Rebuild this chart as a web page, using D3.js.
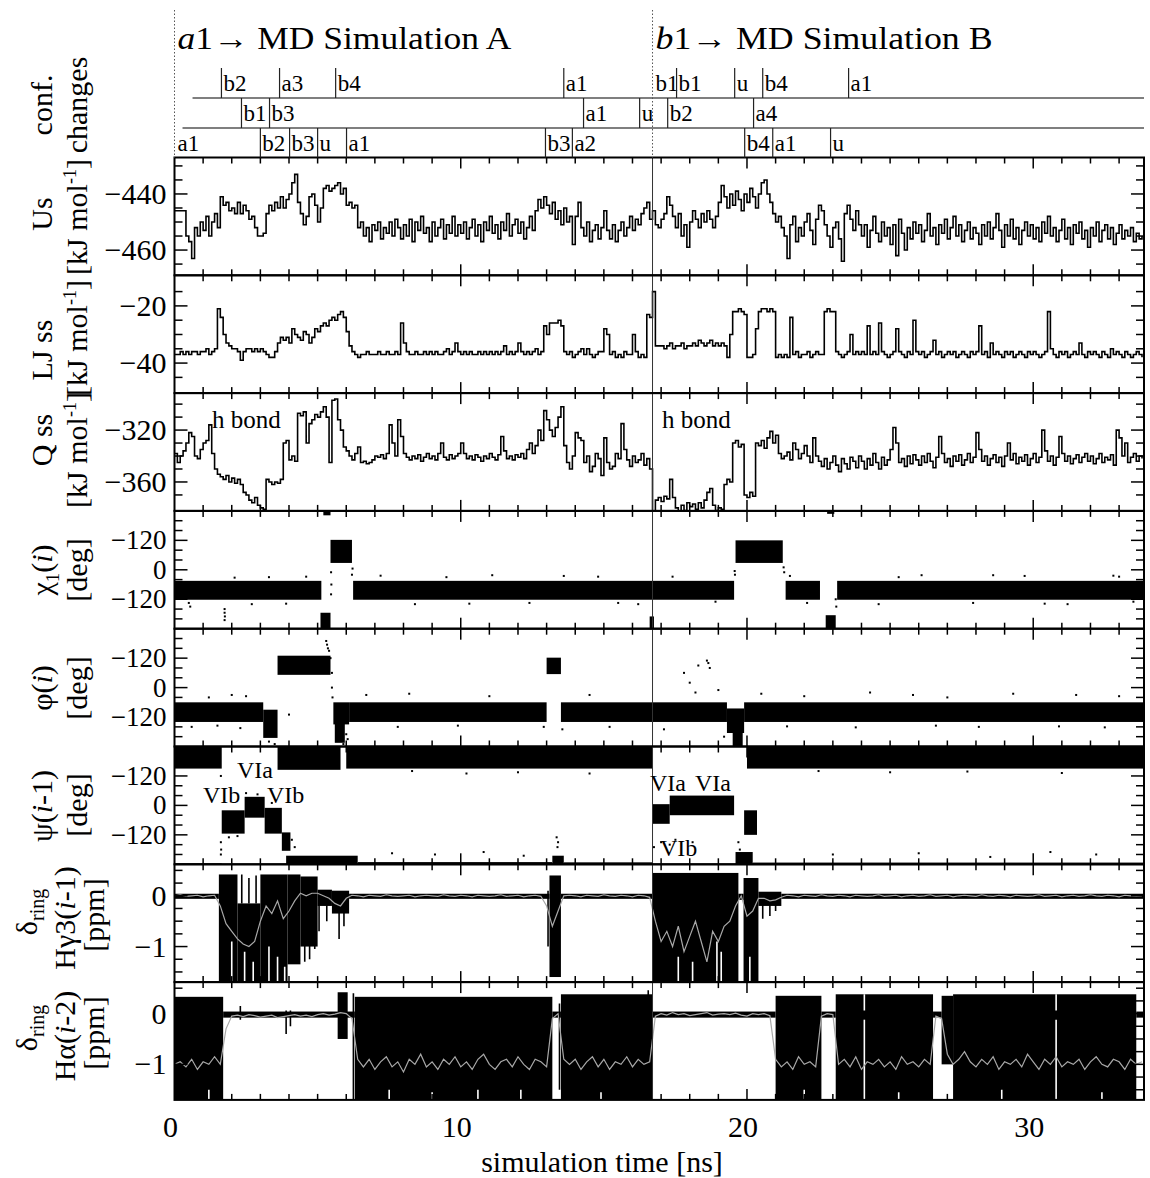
<!DOCTYPE html>
<html>
<head>
<meta charset="utf-8">
<title>Conformational changes in MD simulations A and B</title>
<script src="https://cdn.jsdelivr.net/npm/d3@7/dist/d3.min.js"></script>
<style>
  html, body { margin: 0; padding: 0; background: #fff; }
  svg { display: block; font-family: "Liberation Serif", "Times New Roman", "DejaVu Serif", serif; }
</style>
</head>
<body>
<svg id="fig" width="1150" height="1178"></svg>
<script>
// ---------------- data ----------------
const timeExtent = [0, 33.87];      // ns
const simBStart = 16.7;              // ns, start of simulation B

// conformational-change annotations (three rows, top to bottom)
const confRowStart = [0.63, 0.28, 0];
const confRow1Times = [1.64, 3.67, 5.63, 13.6, 16.7, 17.54, 19.57, 20.55, 23.55];
const confRow1Labels = ["b2", "a3", "b4", "a1", "b1", "b1", "u", "b4", "a1"];
const confRow2Times = [2.34, 3.32, 14.29, 16.25, 17.23, 20.23];
const confRow2Labels = ["b1", "b3", "a1", "u", "b2", "a4"];
const confRow3Times = [0, 3.0, 4.02, 5.0, 6.01, 12.96, 13.9, 19.92, 20.9, 22.92];
const confRow3Labels = ["a1", "b2", "b3", "u", "a1", "b3", "a2", "b4", "a1", "u"];

// Us, kJ/mol: one row per ns, samples every 0.1 ns
const usByNs = [
  [-446,-446,-446,-446,-455,-457,-463,-452,-455,-450],
  [-453,-448,-455,-450,-447,-452,-441,-444,-443,-446],
  [-445,-447,-443,-447,-444,-446,-449,-448,-452,-455],
  [-455,-454,-447,-444,-446,-443,-445,-441,-445,-442],
  [-440,-436,-433,-443,-447,-451,-448,-441,-440,-444],
  [-450,-445,-438,-437,-439,-438,-437,-436,-440,-438],
  [-444,-443,-445,-444,-452,-450,-455,-452,-457,-451],
  [-453,-450,-456,-452,-454,-450,-455,-449,-452,-456],
  [-451,-455,-449,-457,-450,-453,-448,-454,-452,-457],
  [-450,-455,-452,-449,-456,-451,-454,-448,-455,-451],
  [-454,-450,-456,-452,-449,-455,-451,-457,-450,-453],
  [-448,-454,-451,-456,-450,-453,-447,-455,-451,-449],
  [-454,-450,-456,-452,-448,-453,-446,-442,-445,-441],
  [-444,-447,-443,-449,-446,-451,-445,-450,-448,-458],
  [-448,-443,-452,-455,-450,-457,-453,-451,-456,-452],
  [-446,-453,-456,-451,-457,-453,-450,-455,-452,-448],
  [-453,-449,-451,-447,-445,-443,-449,-446,-451,-452],
  [-449,-447,-441,-444,-448,-452,-447,-455,-451,-459],
  [-450,-446,-449,-452,-447,-450,-446,-449,-452,-448],
  [-443,-437,-441,-445,-440,-444,-439,-442,-446,-440],
  [-443,-438,-441,-445,-440,-436,-435,-440,-443,-447],
  [-450,-448,-452,-455,-463,-451,-448,-457,-452,-455],
  [-450,-447,-453,-458,-449,-444,-446,-451,-455,-459],
  [-452,-450,-456,-464,-447,-444,-449,-453,-446,-451],
  [-455,-451,-459,-453,-448,-454,-457,-450,-455,-452],
  [-458,-451,-462,-449,-454,-460,-452,-456,-450,-454],
  [-451,-457,-453,-447,-455,-452,-458,-451,-454,-449],
  [-456,-452,-448,-455,-451,-457,-453,-450,-456,-452],
  [-454,-458,-451,-455,-450,-456,-452,-447,-453,-459],
  [-451,-455,-449,-456,-452,-458,-453,-450,-455,-451],
  [-456,-452,-457,-450,-454,-448,-455,-452,-457,-453],
  [-449,-456,-452,-458,-451,-454,-450,-456,-453,-459],
  [-452,-455,-450,-457,-453,-451,-456,-452,-458,-454],
  [-451,-456,-453,-455,-452,-457,-454,-456,-455]
];

// LJ side chain / side chain, kJ/mol
const ljByNs = [
  [-37,-37,-36,-37,-36,-37,-36,-36,-37,-36],
  [-36,-35,-37,-36,-35,-21,-24,-30,-33,-34],
  [-35,-35,-36,-39,-36,-35,-35,-36,-35,-36],
  [-35,-36,-37,-38,-38,-36,-33,-31,-32,-31],
  [-33,-28,-30,-31,-32,-29,-30,-33,-31,-28],
  [-29,-27,-26,-27,-25,-24,-25,-23,-22,-24],
  [-29,-34,-36,-37,-38,-37,-37,-36,-37,-37],
  [-37,-36,-37,-37,-36,-37,-37,-36,-37,-26],
  [-33,-36,-37,-37,-36,-37,-37,-36,-37,-36],
  [-37,-36,-37,-37,-36,-35,-37,-36,-33,-36],
  [-37,-36,-37,-36,-37,-37,-36,-37,-36,-37],
  [-36,-37,-36,-37,-36,-34,-37,-36,-37,-36],
  [-33,-36,-37,-36,-37,-36,-35,-37,-36,-27],
  [-30,-26,-26,-26,-25,-27,-36,-37,-36,-38],
  [-37,-36,-35,-37,-35,-37,-38,-37,-36,-36],
  [-28,-30,-37,-36,-38,-37,-38,-36,-37,-37],
  [-30,-36,-38,-37,-38,-23,-24,-15,-34,-34],
  [-34,-35,-34,-33,-35,-34,-34,-33,-35,-34],
  [-34,-33,-34,-32,-33,-34,-33,-32,-34,-33],
  [-34,-33,-34,-38,-30,-22,-22,-21,-22,-23],
  [-38,-38,-37,-28,-22,-21,-21,-22,-21,-22],
  [-38,-37,-38,-37,-38,-24,-37,-36,-38,-37],
  [-37,-36,-38,-37,-36,-37,-37,-22,-21,-22],
  [-22,-36,-37,-38,-37,-36,-30,-37,-36,-37],
  [-36,-37,-27,-37,-36,-37,-26,-36,-37,-38],
  [-37,-36,-28,-36,-37,-38,-36,-37,-25,-36],
  [-37,-36,-38,-37,-36,-32,-37,-36,-38,-37],
  [-36,-37,-36,-38,-37,-36,-37,-38,-36,-37],
  [-36,-27,-37,-36,-38,-33,-37,-36,-37,-38],
  [-36,-37,-36,-38,-37,-36,-37,-38,-36,-37],
  [-36,-37,-38,-37,-36,-22,-35,-37,-38,-36],
  [-37,-36,-38,-37,-36,-37,-33,-37,-38,-36],
  [-37,-36,-37,-38,-36,-37,-38,-35,-37,-36],
  [-37,-38,-36,-37,-38,-37,-36,-37,-38]
];

// Coulomb side chain / side chain, kJ/mol
const qByNs = [
  [-338,-345,-340,-336,-330,-322,-325,-340,-342,-335],
  [-330,-328,-316,-338,-350,-354,-356,-358,-355,-360],
  [-357,-361,-358,-362,-368,-370,-374,-376,-372,-378],
  [-380,-381,-358,-360,-362,-360,-361,-358,-330,-328],
  [-343,-340,-344,-307,-309,-306,-330,-315,-312,-308],
  [-310,-306,-302,-310,-345,-297,-296,-312,-320,-333],
  [-336,-340,-343,-338,-333,-345,-344,-346,-345,-343],
  [-340,-341,-339,-342,-338,-316,-330,-340,-312,-325],
  [-338,-341,-343,-340,-342,-339,-344,-341,-338,-342],
  [-340,-343,-338,-330,-341,-343,-339,-342,-340,-338],
  [-330,-338,-342,-340,-343,-339,-341,-344,-340,-342],
  [-338,-341,-343,-339,-325,-336,-342,-340,-343,-339],
  [-341,-338,-342,-335,-330,-338,-332,-320,-328,-305],
  [-312,-320,-325,-318,-310,-302,-332,-345,-350,-340],
  [-322,-326,-328,-345,-340,-352,-348,-338,-342,-355],
  [-326,-345,-350,-348,-338,-342,-315,-335,-343,-348],
  [-340,-345,-343,-338,-347,-342,-350,-385,-374,-372],
  [-375,-371,-373,-358,-372,-380,-383,-378,-382,-376],
  [-379,-377,-381,-376,-380,-374,-368,-365,-378,-382],
  [-380,-381,-362,-358,-360,-330,-328,-333,-331,-370],
  [-372,-368,-371,-330,-332,-328,-334,-326,-321,-330],
  [-324,-338,-342,-340,-337,-343,-330,-335,-342,-338],
  [-332,-340,-345,-326,-340,-344,-348,-342,-350,-345],
  [-340,-347,-352,-342,-346,-350,-341,-344,-349,-340],
  [-344,-350,-342,-347,-338,-345,-350,-341,-347,-343],
  [-335,-318,-330,-345,-342,-348,-340,-346,-339,-343],
  [-347,-340,-345,-338,-344,-349,-341,-325,-338,-345],
  [-342,-348,-340,-344,-339,-347,-343,-338,-345,-341],
  [-322,-335,-344,-340,-347,-342,-339,-345,-341,-348],
  [-340,-330,-343,-338,-346,-341,-344,-339,-347,-342],
  [-338,-345,-341,-320,-336,-344,-340,-347,-341,-325],
  [-338,-344,-340,-346,-342,-339,-345,-341,-338,-344],
  [-340,-346,-342,-338,-345,-341,-343,-339,-347,-320],
  [-326,-340,-330,-345,-341,-338,-344,-340,-342]
];

// dihedral populations: [t0, t1, lowDeg, highDeg]; sparse samples: [t, deg]
const chiBands = [
  [0, 5.13, -122, -45], [5.1, 5.45, -240, -175], [5.2, 5.45, 222, 240],
  [5.45, 6.2, 28, 122], [6.24, 16.7, -122, -45], [16.6, 16.75, -240, -190],
  [16.7, 19.55, -122, -45], [19.6, 21.25, 28, 120], [21.35, 22.55, -122, -45],
  [22.75, 23.1, -240, -185], [22.8, 23.05, 228, 240], [23.15, 33.87, -122, -45]
];
const chiDots = [
  [0.5,-135],[0.55,-150],[1.75,-160],[1.75,-175],[1.76,-190],[1.75,-205],[2.7,-140],[3.9,-138],
  [4.6,-28],[7.2,-24],[9.5,-30],[11.1,-22],[12.4,-135],[14.8,-28],[16.2,-140],[18.9,-130],
  [21.5,-25],[24.6,-140],[26.1,-22],[27.9,-135],[29.7,-25],[31.2,-140],[32.8,-24],[33.5,-130],
  [5.47,-100],[5.48,-60],[5.47,-10],[6.2,-20],[6.22,5],[19.58,-20],[19.57,-5],[21.3,-10],
  [21.28,10],[23.12,-150],[23.1,-120],[2.1,-32],[3.3,-30],[8.4,-140],[10.3,-138],[13.6,-25],
  [15.5,-135],[17.4,-28],[22.1,-135],[25.3,-30],[28.6,-22],[30.4,-138],[33.0,-28]
];
const phiBands = [
  [0, 3.1, -140, -60], [3.1, 3.6, -205, -90], [3.6, 5.45, 52, 130],
  [5.55, 6.1, -150, -60], [5.6, 5.95, -225, -140], [6.1, 13.0, -140, -60],
  [13.0, 13.5, 55, 122], [13.5, 19.3, -140, -60], [19.3, 19.9, -185, -85],
  [19.5, 19.85, -240, -180], [19.9, 33.87, -140, -60]
];
const phiDots = [
  [5.3,190],[5.33,175],[5.36,160],[5.4,150],[5.45,120],[5.5,60],[5.5,0],[5.52,-40],
  [2.0,-30],[2.5,-35],[1.2,-40],[4.0,-110],[6.7,-30],[8.2,-25],[11.0,-35],[14.5,-30],
  [17.8,60],[18.0,20],[18.3,90],[18.6,110],[18.65,100],[18.7,80],[18.2,-20],[19.0,-10],
  [20.5,-25],[22.0,-35],[24.3,-20],[25.8,-30],[27.0,-40],[29.3,-25],[31.5,-30],[33.0,-35],
  [6.0,-190],[6.05,-210],[5.9,-230],[3.3,-220],[3.5,-230],[12.9,-160],[13.55,-170],
  [17.1,-170],[19.2,-200],[0.6,-160],[1.5,-155],[2.3,-165],[7.8,-160],[9.9,-155],
  [15.2,-160],[21.4,-158],[23.8,-162],[26.6,-155],[28.1,-160],[30.9,-158],[32.5,-162]
];
const psiBands = [
  [0, 1.65, 150, 240], [1.65, 2.45, -115, -20], [2.45, 3.15, -50, 35],
  [3.15, 3.75, -115, -10], [3.75, 4.05, -185, -110], [3.6, 5.8, 145, 240],
  [3.9, 6.4, -240, -205], [6.0, 16.7, 150, 240], [0, 1.65, -240, -236],
  [6.4, 13.2, -240, -231], [13.2, 13.6, -240, -205], [13.6, 16.7, -240, -232],
  [16.7, 17.3, -75, 5], [17.3, 19.55, -40, 40], [19.6, 20.2, -240, -190],
  [19.9, 20.35, -120, -20], [20.0, 33.87, 150, 240], [20.2, 33.87, -240, -233]
];
const psiDots = [
  [1.62,120],[1.62,-150],[1.63,-180],[1.62,-200],[13.35,-130],[13.4,-150],[13.38,-170],
  [7.6,-195],[9.1,-200],[10.8,-190],[12.2,-205],[16.75,-170],[17.0,-150],[17.3,-160],
  [17.5,-140],[18.1,-150],[19.7,-150],[19.75,-180],[19.8,-205],[23.0,-200],[26.0,-195],
  [28.5,-210],[30.6,-190],[32.2,-200],[8.3,140],[10.2,130],[12.0,135],[14.5,130],
  [22.5,140],[25.0,135],[27.7,138],[31.0,132],[4.1,-140],[4.2,-170],[2.5,50],[2.9,45],
  [3.4,10],[1.9,-130],[2.2,-125]
];

// ring-current shifts, ppm: spread of instantaneous values [t0, t1, low, high],
// single excursions [t, low, high], unsampled slits [t, low, high], running mean
const hg3Blocks = [
  [0, 1.55, -0.06, 0.04], [1.55, 2.2, -1.7, 0.42], [2.2, 3.0, -1.7, -0.15],
  [3.0, 3.95, -1.7, 0.42], [3.95, 4.4, -1.35, 0.42], [4.4, 5.0, -1.0, 0.38],
  [5.0, 5.5, -0.2, 0.12], [5.5, 6.1, -0.35, 0.1], [6.1, 13.1, -0.06, 0.04],
  [13.1, 13.5, -1.6, 0.4], [13.5, 16.7, -0.06, 0.04], [16.7, 19.7, -1.7, 0.45],
  [19.7, 19.88, -0.08, 0.04], [19.88, 20.4, -1.7, 0.35], [20.4, 21.2, -0.2, 0.08],
  [21.2, 33.87, -0.06, 0.04]
];
const hg3Spikes = [
  [2.35,-0.15,0.42],[2.6,-0.15,0.35],[2.85,-0.15,0.4],[4.55,-1.3,0.3],[4.72,-1.25,0.3],
  [4.9,-1.05,0.3],[5.05,-0.7,0.05],[5.32,-0.5,0.05],[5.75,-0.85,0.05],[5.92,-0.6,0.05],
  [13.05,-1.0,0.1],[20.55,-0.45,0.05],[20.8,-0.4,0.05],[21.0,-0.3,0.05]
];
const hg3Gaps = [
  [2.0,-1.7,-0.9],[2.45,-1.7,-1.1],[2.75,-1.7,-1.3],[3.3,-1.7,-1.0],[3.6,-1.7,-1.2],
  [3.85,-1.7,-1.4],[17.6,-1.7,-1.2],[18.1,-1.7,-1.3],[18.95,-1.7,-0.9],[19.1,-1.7,-1.1],
  [20.1,-1.7,-1.2]
];
const hg3Mean = [
  { t0: 0, v: [0,0.02,-0.01,0,0.01,-0.02,0,0.01] },
  { t0: 1.6, v: [-0.2,-0.55,-0.7,-0.85,-0.95,-1.0,-0.9,-0.5,-0.2,-0.35,-0.1,-0.45,-0.3,-0.1,0.05,0,0.05,0.05,0,-0.05,-0.15,-0.2,-0.05] },
  { t0: 6.2, v: [0.01,0,-0.02,0.01,0,-0.01,0.02,0,-0.01,0,0.01,-0.02,0,0.01,0,-0.01,0.02,0,-0.01,0.01,0,-0.02,0.01,0,-0.01,0,0.02,-0.01,0,0.01,-0.02,0,0.01,-0.01] },
  { t0: 13.0, v: [-0.2,-0.6,-0.3,0] },
  { t0: 13.8, v: [0.01,0,-0.02,0.01,0,-0.01,0.02,0,-0.01,0.01,0,-0.02,0.01,0,-0.03] },
  { t0: 16.8, v: [-0.5,-0.9,-0.7,-1.0,-0.6,-1.1,-0.8,-0.5,-0.9,-1.3,-0.7,-0.9,-0.6,-0.5,-0.2,0,-0.4,-0.3,-0.05] },
  { t0: 20.6, v: [-0.05,-0.1,-0.08,-0.03,0.01,0,-0.02,0.01,0,-0.01,0.02,0,-0.01,0.01,0,-0.02,0.01,0,-0.01,0,
                  0.02,-0.01,0,0.01,-0.02,0,0.01,-0.01,0,0.02,-0.01,0,0.01,-0.02,0,0.01,0,-0.01,0.02,0,
                  -0.01,0.01,0,-0.02,0.01,0,-0.01,0,0.02,-0.01,0,0.01,-0.02,0,0.01,-0.01,0,0.02,0,-0.01,
                  0.01,0,-0.02,0.01,0,-0.01,0] }
];

const haBlocks = [
  [0, 1.7, -1.7, 0.33], [1.7, 6.3, -0.08, 0.04], [5.7, 6.05, -0.5, 0.42],
  [6.3, 13.2, -1.7, 0.33], [13.2, 13.5, -0.08, 0.04], [13.5, 16.7, -1.7, 0.38],
  [16.7, 21.0, -0.08, 0.04], [21.0, 22.6, -1.7, 0.35], [22.6, 23.1, -0.08, 0.04],
  [23.1, 26.5, -1.7, 0.38], [26.5, 26.8, -0.08, 0.04], [26.8, 27.2, -1.0, 0.35],
  [27.2, 33.6, -1.7, 0.38], [33.6, 33.87, -0.08, 0.04]
];
const haSpikes = [
  [3.9,-0.4,0.06],[4.05,-0.25,0.06],[2.3,-0.12,0.15],[16.55,-1.7,0.46],[6.25,-1.7,0.4],
  [13.45,-1.5,0.2],[21.05,-1.6,0.3]
];
const haGaps = [
  [24.1,-1.7,-0.12],[24.1,0.06,0.38],[30.8,-1.7,-0.12],[30.8,0.06,0.38],[1.2,-1.7,-1.5],
  [7.5,-1.7,-1.5],[9.0,-1.7,-1.55],[10.6,-1.7,-1.5],[12.1,-1.7,-1.5],[14.9,-1.7,-1.55],
  [22.0,-1.7,-1.5],[25.3,-1.7,-1.55],[28.9,-1.7,-1.5],[32.4,-1.7,-1.55]
];
const haMean = [
  { t0: 0, v: [-1.0,-0.95,-1.05,-0.9,-1.1,-0.95,-1.0,-0.85,-1.0] },
  { t0: 1.8, v: [-0.3,-0.05,-0.03,-0.06,-0.02,-0.04,-0.07,-0.05,-0.03,-0.08,-0.06,-0.04,-0.02,-0.05,-0.03,-0.06,-0.02,0,-0.03,-0.01,0.02,0,-0.1] },
  { t0: 6.4, v: [-0.9,-1.05,-0.9,-1.1,-0.95,-0.85,-1.05,-0.95,-1.15,-0.9,-1.0,-0.8,-1.05,-0.95,-1.1,-0.9,-1.0,-0.85,-1.05,-0.95,-1.1,-0.9,-0.8,-1.0,-1.1,-0.95,-0.9,-1.05,-0.85,-1.0,-1.1,-0.9,-0.95,-1.05] },
  { t0: 13.2, v: [-0.1,0,-0.9] },
  { t0: 13.8, v: [-1.0,-0.9,-1.1,-0.95,-0.85,-1.05,-0.9,-1.1,-0.95,-1.0,-0.85,-1.05,-0.9,-1.0,-0.95] },
  { t0: 16.8, v: [-0.05,0,-0.03,0.02,-0.02,0,-0.04,-0.02,0,0.02,-0.03,-0.01,0,-0.02,0.01,-0.03,-0.05,0,-0.02,0,-0.04] },
  { t0: 21.0, v: [-0.9,-1.05,-0.95,-1.1,-0.85,-1.0,-0.95,-1.05] },
  { t0: 22.6, v: [-0.05,0,-0.02] },
  { t0: 23.2, v: [-1.0,-0.9,-1.05,-0.85,-1.1,-0.95,-1.0,-0.9,-1.05,-0.95,-1.1,-0.85,-1.0,-0.95,-1.05,-0.9,-1.0] },
  { t0: 26.6, v: [-0.05,-0.1,-0.8] },
  { t0: 27.2, v: [-1.0,-0.9,-0.75,-0.95,-1.05,-0.9,-1.0,-0.85,-1.1,-0.95,-1.0,-0.9,-1.05,-0.8,-0.95,-1.1,-0.9,-1.0,-0.85,-1.05,-0.95,-1.0,-0.9,-1.1,-0.95,-0.85,-1.0,-1.05,-0.9,-0.95,-1.1,-0.9,-1.0,-0.95] }
];

// axis ticks and labels
const xMajorTicks = [0, 10, 20, 30];
const xTickLabels = ["0", "10", "20", "30"];
const usTicks = [-440, -460],   usTickLabels = ["\u2212440", "\u2212460"];
const ljTicks = [-20, -40],     ljTickLabels = ["\u221220", "\u221240"];
const qTicks = [-320, -360],    qTickLabels = ["\u2212320", "\u2212360"];
const angleTicks = [-120, 0, 120], angleTickLabels = ["\u2212120", "0", "\u2212120"];
const ppmTicks = [0, -1],       ppmTickLabels = ["0", "\u22121"];

// ---------------- layout ----------------
const svg = d3.select("#fig");
const X0 = 174.5, X1 = 1144;
const panelTop = 157.5, panelH = 117.8;
const x = d3.scaleLinear().domain(timeExtent).range([X0, X1]);

const panels = [
  { kind: "line", rows: usByNs, domain: [-469, -427], minor: d3.range(-465, -428, 5), ticks: usTicks, labels: usTickLabels, fs: 30 },
  { kind: "line", rows: ljByNs, domain: [-50.5, -9.3], minor: d3.range(-50, -9, 5), ticks: ljTicks, labels: ljTickLabels, fs: 30 },
  { kind: "line", rows: qByNs, domain: [-382.3, -291.5], minor: d3.range(-380, -291, 10), ticks: qTicks, labels: qTickLabels, fs: 30 },
  { kind: "dihedral", bands: chiBands, dots: chiDots, domain: [-240, 240], minor: d3.range(-200, 201, 40), ticks: angleTicks, labels: angleTickLabels, fs: 27 },
  { kind: "dihedral", bands: phiBands, dots: phiDots, domain: [-240, 240], minor: d3.range(-200, 201, 40), ticks: angleTicks, labels: angleTickLabels, fs: 27 },
  { kind: "dihedral", bands: psiBands, dots: psiDots, domain: [-240, 240], minor: d3.range(-200, 201, 40), ticks: angleTicks, labels: angleTickLabels, fs: 27 },
  { kind: "ring", blocks: hg3Blocks, spikes: hg3Spikes, gaps: hg3Gaps, mean: hg3Mean, domain: [-1.7, 0.62], minor: d3.range(-1.5, 0.51, 0.25), ticks: ppmTicks, labels: ppmTickLabels, fs: 30 },
  { kind: "ring", blocks: haBlocks, spikes: haSpikes, gaps: haGaps, mean: haMean, domain: [-1.7, 0.62], minor: d3.range(-1.5, 0.51, 0.25), ticks: ppmTicks, labels: ppmTickLabels, fs: 30 }
];

const defs = svg.append("defs");

panels.forEach((p, i) => {
  const top = panelTop + i * panelH, bottom = top + panelH;
  const y = d3.scaleLinear().domain(p.domain).range([bottom, top]);
  defs.append("clipPath").attr("id", "clip" + i)
    .append("rect").attr("x", X0).attr("y", top).attr("width", X1 - X0).attr("height", panelH);
  const g = svg.append("g");
  const marks = g.append("g").attr("clip-path", `url(#clip${i})`);

  if (p.kind === "line") {
    const pts = p.rows.flatMap((r, k) => r.map((v, j) => [k + j / 10, v]));
    marks.append("path").datum(pts)
      .attr("fill", "none").attr("stroke", "#000").attr("stroke-width", 1.6)
      .attr("stroke-linejoin", "miter")
      .attr("d", d3.line().x(d => x(d[0])).y(d => y(d[1])).curve(d3.curveStepAfter));
  } else if (p.kind === "dihedral") {
    marks.selectAll("rect.band").data(p.bands).join("rect").attr("class", "band")
      .attr("x", d => x(d[0])).attr("width", d => x(d[1]) - x(d[0]))
      .attr("y", d => y(d[3])).attr("height", d => y(d[2]) - y(d[3]))
      .attr("fill", "#000");
    marks.selectAll("rect.dot").data(p.dots).join("rect").attr("class", "dot")
      .attr("x", d => x(d[0]) - 1).attr("y", d => y(d[1]) - 1)
      .attr("width", 2).attr("height", 2).attr("fill", "#000");
  } else {
    marks.selectAll("rect.blk").data(p.blocks).join("rect").attr("class", "blk")
      .attr("x", d => x(d[0])).attr("width", d => x(d[1]) - x(d[0]))
      .attr("y", d => y(d[3])).attr("height", d => y(d[2]) - y(d[3]))
      .attr("fill", "#000");
    marks.selectAll("line.spk").data(p.spikes).join("line").attr("class", "spk")
      .attr("x1", d => x(d[0])).attr("x2", d => x(d[0]))
      .attr("y1", d => y(d[1])).attr("y2", d => y(d[2]))
      .attr("stroke", "#000").attr("stroke-width", 1.6);
    marks.selectAll("line.gap").data(p.gaps).join("line").attr("class", "gap")
      .attr("x1", d => x(d[0])).attr("x2", d => x(d[0]))
      .attr("y1", d => y(d[1])).attr("y2", d => y(d[2]))
      .attr("stroke", "#fff").attr("stroke-width", 1.6);
    const pts = p.mean.flatMap(s => s.v.map((v, j) => [s.t0 + j * 0.2, v]));
    marks.append("path").datum(pts)
      .attr("fill", "none").attr("stroke", "#a8a8a8").attr("stroke-width", 1.2)
      .attr("d", d3.line().x(d => x(d[0])).y(d => y(d[1])));
  }

  // start of simulation B
  g.append("line").attr("x1", x(simBStart)).attr("x2", x(simBStart))
    .attr("y1", top).attr("y2", bottom).attr("stroke", "#333").attr("stroke-width", 1);

  // frame
  g.append("rect").attr("x", X0).attr("y", top).attr("width", X1 - X0).attr("height", panelH)
    .attr("fill", "none").attr("stroke", "#000").attr("stroke-width", 2);

  // time ticks, inward on top and bottom edges
  const tTicks = d3.range(1, 34);
  g.selectAll("line.tt").data(tTicks).join("line").attr("class", "tt")
    .attr("x1", d => x(d)).attr("x2", d => x(d))
    .attr("y1", top).attr("y2", d => top + (xMajorTicks.includes(d) ? 11 : 6))
    .attr("stroke", "#000").attr("stroke-width", 1.5);
  g.selectAll("line.tb").data(tTicks).join("line").attr("class", "tb")
    .attr("x1", d => x(d)).attr("x2", d => x(d))
    .attr("y1", bottom).attr("y2", d => bottom - (xMajorTicks.includes(d) ? 11 : 6))
    .attr("stroke", "#000").attr("stroke-width", 1.5);

  // value ticks, inward on left and right edges
  const vt = p.minor.filter(v => y(v) > top + 4 && y(v) < bottom - 4);
  const len = v => (p.ticks.some(t => Math.abs(t - v) < 1e-9) ? 13 : 8);
  g.selectAll("line.vl").data(vt).join("line").attr("class", "vl")
    .attr("x1", X0).attr("x2", d => X0 + len(d))
    .attr("y1", d => y(d)).attr("y2", d => y(d))
    .attr("stroke", "#000").attr("stroke-width", 1.5);
  g.selectAll("line.vr").data(vt).join("line").attr("class", "vr")
    .attr("x1", X1).attr("x2", d => X1 - len(d))
    .attr("y1", d => y(d)).attr("y2", d => y(d))
    .attr("stroke", "#000").attr("stroke-width", 1.5);

  g.selectAll("text.vlab").data(p.ticks).join("text").attr("class", "vlab")
    .attr("x", X0 - 8).attr("y", d => y(d) + p.fs / 3)
    .attr("text-anchor", "end").attr("font-size", p.fs)
    .text((d, k) => p.labels[k]);
});

// ---------------- conformation change rows ----------------
const rowTops = [68, 98, 128], rowBottoms = [98, 128, panelTop];
const confRows = [
  [confRow1Times, confRow1Labels], [confRow2Times, confRow2Labels], [confRow3Times, confRow3Labels]
];
const conf = svg.append("g");
confRows.forEach(([times, labels], r) => {
  if (r < 2) {
    conf.append("line").attr("x1", x(confRowStart[r])).attr("x2", X1)
      .attr("y1", rowBottoms[r]).attr("y2", rowBottoms[r])
      .attr("stroke", "#555").attr("stroke-width", 1.3);
  }
  times.forEach((t, k) => {
    const hasBar = t > 0 && Math.abs(t - simBStart) > 1e-6;
    if (hasBar) {
      conf.append("line").attr("x1", x(t)).attr("x2", x(t))
        .attr("y1", rowTops[r]).attr("y2", rowBottoms[r])
        .attr("stroke", "#222").attr("stroke-width", 1.2);
    }
    conf.append("text").attr("x", x(t) + (hasBar ? 2 : 3)).attr("y", rowBottoms[r] - 7)
      .attr("font-size", 23).text(labels[k]);
  });
});

// dotted guides at the start of each simulation
[0, simBStart].forEach(t => {
  svg.append("line").attr("x1", x(t)).attr("x2", x(t)).attr("y1", 10).attr("y2", panelTop)
    .attr("stroke", "#555").attr("stroke-width", 1).attr("stroke-dasharray", "1.5,2");
});

// simulation titles
function simTitle(t, letter, name, width) {
  const tx = svg.append("text").attr("x", x(t) + 3).attr("y", 49).attr("font-size", 32)
    .attr("textLength", width).attr("lengthAdjust", "spacingAndGlyphs");
  tx.append("tspan").attr("font-style", "italic").text(letter);
  tx.append("tspan").text("1\u2192  MD Simulation " + name);
}
simTitle(0, "a", "A", 334);
simTitle(simBStart, "b", "B", 337);

// ---------------- in-plot annotations ----------------
const ann = svg.append("g").attr("font-size", 25);
ann.append("text").attr("x", 212).attr("y", 428).text("h bond");
ann.append("text").attr("x", 662).attr("y", 428).text("h bond");
const ann2 = svg.append("g").attr("font-size", 24);
ann2.append("text").attr("x", 237).attr("y", 778).text("VIa");
ann2.append("text").attr("x", 203).attr("y", 803).text("VIb");
ann2.append("text").attr("x", 267).attr("y", 803).text("VIb");
ann2.append("text").attr("x", 650).attr("y", 791).text("VIa");
ann2.append("text").attr("x", 695).attr("y", 791).text("VIa");
ann2.append("text").attr("x", 660).attr("y", 856).text("VIb");

// ---------------- axis titles ----------------
function vlabel(bx, cy, parts, size = 30) {
  const tx = svg.append("text").attr("transform", `translate(${bx},${cy}) rotate(-90)`)
    .attr("text-anchor", "middle").attr("font-size", size);
  parts.forEach(p => {
    const s = tx.append("tspan").text(p.s);
    if (p.it) s.attr("font-style", "italic");
    if (p.fs) s.attr("font-size", p.fs);
    if (p.dy) s.attr("dy", p.dy);
  });
}
const kj = [{ s: "[kJ mol" }, { s: "-1", fs: 18, dy: -11 }, { s: "]", dy: 11 }];
const col1 = 52, col2 = 87;
vlabel(col1, 105, [{ s: "conf." }]);
vlabel(col2, 105, [{ s: "changes" }]);
vlabel(col1, 214, [{ s: "Us" }]);
vlabel(col2, 217, kj);
vlabel(col1, 350, [{ s: "LJ ss" }]);
vlabel(col2, 338, kj);
vlabel(col1, 440, [{ s: "Q ss" }]);
vlabel(col2, 450, kj);
vlabel(col1, 570, [{ s: "\u03c7" }, { s: "1", fs: 19, dy: 7 }, { s: "(", dy: -7 }, { s: "i", it: true }, { s: ")" }]);
vlabel(col2, 570, [{ s: "[deg]" }]);
vlabel(col1, 688, [{ s: "\u03c6(" }, { s: "i", it: true }, { s: ")" }]);
vlabel(col2, 688, [{ s: "[deg]" }]);
vlabel(col1, 806, [{ s: "\u03c8(" }, { s: "i", it: true }, { s: "-1)" }]);
vlabel(col2, 805, [{ s: "[deg]" }]);
[[912, 918, "\u03b3", "3", "-1"], [1028, 1036, "\u03b1", "", "-2"]].forEach(([cy1, cy2, greek, num, off]) => {
  vlabel(37, cy1, [{ s: "\u03b4" }, { s: "ring", fs: 20, dy: 7 }]);
  vlabel(75, cy2, [{ s: "H" + greek + num + "(" }, { s: "i", it: true }, { s: off + ")" }]);
  vlabel(104, cy2 - 3, [{ s: "[ppm]" }]);
});

// time axis labels
svg.selectAll("text.xl").data(xMajorTicks).join("text").attr("class", "xl")
  .attr("x", d => x(d) - 4).attr("y", 1137).attr("text-anchor", "middle")
  .attr("font-size", 30).text((d, k) => xTickLabels[k]);
svg.append("text").attr("x", 602).attr("y", 1172).attr("text-anchor", "middle")
  .attr("font-size", 30).text("simulation time [ns]");
</script>
</body>
</html>
